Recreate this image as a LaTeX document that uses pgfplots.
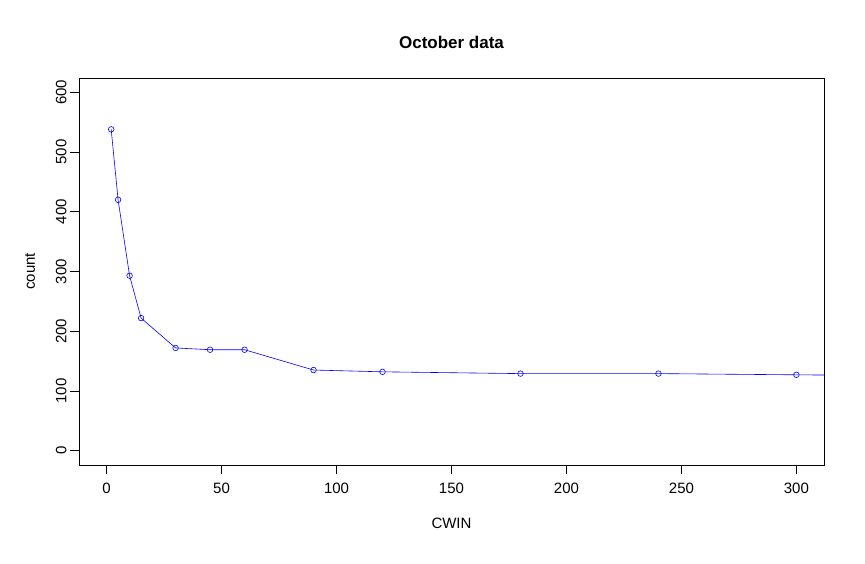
\documentclass[border=0pt]{standalone}
\usepackage{pgfplots}
\pgfplotsset{compat=1.18}
\usepackage{fontspec}
\setmainfont{Liberation Sans}
\begin{document}
\begin{tikzpicture}[x=1pt,y=1pt]
\path (0,0) rectangle (865,564);
\begin{axis}[at={(79pt,99pt)},anchor=south west,scale only axis,
 width=745pt,height=387pt,
 xmin=-12,xmax=312,ymin=-24,ymax=624,
 xtick={0,50,...,300},ytick={0,100,...,600},
 tick align=outside,major tick length=9pt,
 tick style={black,line width=0.8pt},
 axis line style={line width=0.8pt},
 xtick pos=bottom,ytick pos=left,
 /pgf/number format/assume math mode=true,
 tick label style={font=\fontsize{15}{17}\selectfont},
 yticklabel style={rotate=90,anchor=south,xshift=0pt},
 xticklabel style={yshift=-5pt},
 title={\bfseries October data},title style={font=\fontsize{17}{20}\selectfont,yshift=20pt},
 xlabel={CWIN},ylabel={count},
 label style={font=\fontsize{15}{17}\selectfont},
 xlabel style={yshift=-18pt},ylabel style={yshift=14pt},
 clip=true]
\addplot[blue,line width=0.6pt,mark=o,mark size=2.8pt,mark options={line width=0.6pt}] coordinates {
(2,538)(5,420)(10,293)(15,222)(30,172)(45,169)(60,169)(90,135)(120,132)(180,129)(240,129)(300,127)(360,125)};
\end{axis}
\end{tikzpicture}
\end{document}
